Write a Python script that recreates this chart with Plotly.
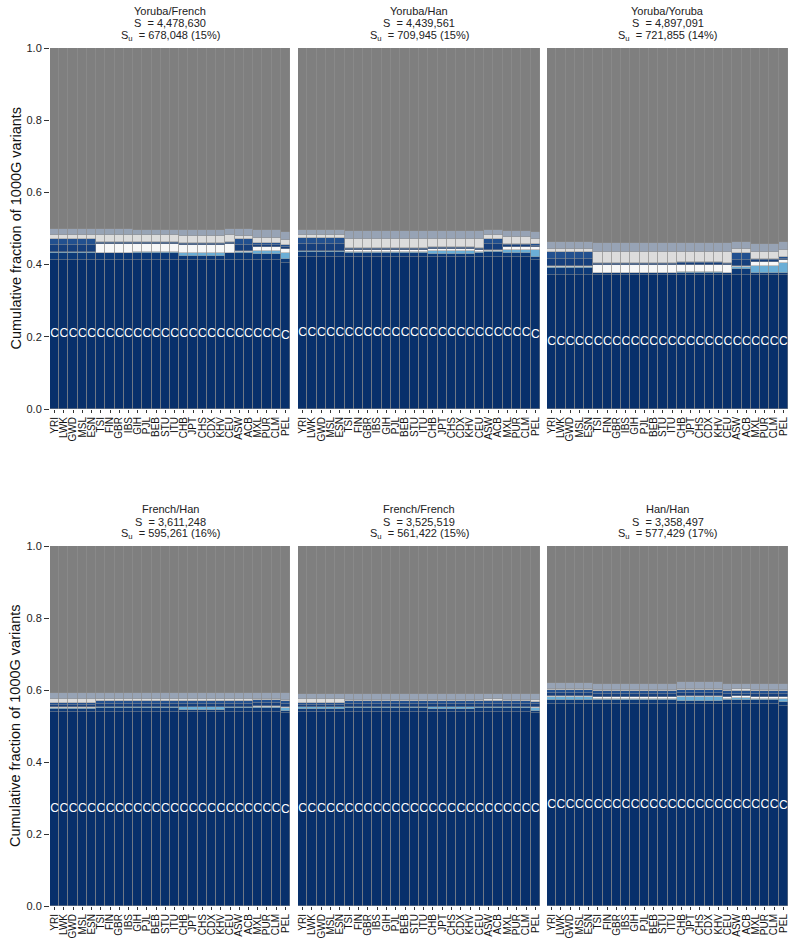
import plotly.graph_objects as go

pops = ["YRI", "LWK", "GWD", "MSL", "ESN", "TSI", "FIN", "GBR", "IBS", "GIH", "PJL", "BEB", "STU",
        "ITU", "CHB", "JPT", "CHS", "CDX", "KHV", "CEU", "ASW", "ACB", "MXL", "PUR", "CLM", "PEL"]

panel_names = ["Yoruba/French", "Yoruba/Han", "Yoruba/Yoruba", "French/Han", "French/French", "Han/Han"]
S_values = ["4,478,630", "4,439,561", "4,897,091", "3,611,248", "3,525,519", "3,358,497"]
Su_values = ["678,048", "709,945", "721,855", "595,261", "561,422", "577,429"]
Su_pcts = ["15%", "15%", "14%", "16%", "15%", "17%"]

layer_names = ["C", "c", "lb", "w", "d1", "d2", "g", "d3"]
layer_colors = ["#08306b", "#0d3a78", "#6baed6", "#f7f7f7", "#163f7c", "#22508f", "#dcdcdc", "#97a3b5"]
rest_color = "#7f7f7f"

# order: AFR(5) EUR(4) SAS(5) EAS(5) CEU ASW ACB MXL PUR CLM PEL
yf_C = [.413, .413, .413, .413, .413, .413, .413, .413, .413, .413, .413, .413, .413, .413, .413, .413, .413, .413, .413, .413, .413, .413, .413, .413, .413, .405]
yf_c = [.018, .018, .018, .018, .018, .018, .018, .018, .018, .018, .018, .018, .018, .018, .010, .010, .010, .010, .010, .018, .018, .018, .016, .016, .016, .010]
yf_lb = [.003, .003, .003, .003, .003, .002, .002, .002, .002, .003, .003, .003, .003, .003, .010, .010, .010, .010, .010, .002, .003, .003, .008, .008, .008, .018]
yf_w = [.002, .002, .002, .002, .002, .024, .024, .024, .024, .022, .022, .022, .022, .022, .020, .020, .020, .020, .020, .024, .003, .003, .012, .012, .012, .010]
yf_d1 = [.018, .018, .018, .018, .018, .003, .003, .003, .003, .004, .004, .004, .004, .004, .004, .004, .004, .004, .004, .003, .017, .017, .006, .006, .006, .006]
yf_d2 = [.017, .017, .017, .017, .017, .003, .003, .003, .003, .003, .003, .003, .003, .003, .004, .004, .004, .004, .004, .003, .016, .016, .006, .006, .006, .006]
yf_g = [.010, .010, .010, .010, .010, .018, .018, .018, .018, .018, .018, .018, .018, .018, .018, .018, .018, .018, .018, .018, .010, .010, .014, .014, .014, .012]
yf_d3 = [.019, .019, .019, .019, .019, .017, .017, .017, .017, .016, .016, .016, .016, .016, .018, .018, .018, .018, .018, .017, .019, .019, .020, .020, .020, .024]

yh_C = [.420, .420, .420, .420, .420, .420, .420, .420, .420, .420, .420, .420, .420, .420, .420, .420, .420, .420, .420, .420, .420, .420, .420, .420, .420, .412]
yh_c = [.015, .015, .015, .015, .015, .012, .012, .012, .012, .012, .012, .012, .012, .012, .010, .010, .010, .010, .010, .012, .015, .015, .012, .012, .012, .008]
yh_lb = [.002, .002, .002, .002, .002, .002, .002, .002, .002, .002, .002, .002, .002, .002, .008, .008, .008, .008, .008, .002, .003, .003, .008, .008, .008, .020]
yh_w = [.002, .002, .002, .002, .002, .006, .006, .006, .006, .006, .006, .006, .006, .006, .005, .005, .005, .005, .005, .006, .003, .003, .010, .010, .010, .008]
yh_d1 = [.018, .018, .018, .018, .018, .004, .004, .004, .004, .004, .004, .004, .004, .004, .003, .003, .003, .003, .003, .004, .016, .016, .004, .004, .004, .004]
yh_d2 = [.016, .016, .016, .016, .016, .002, .002, .002, .002, .002, .002, .002, .002, .002, .002, .002, .002, .002, .002, .002, .014, .014, .004, .004, .004, .004]
yh_g = [.008, .008, .008, .008, .008, .026, .026, .026, .026, .026, .026, .026, .026, .026, .024, .024, .024, .024, .024, .026, .010, .010, .018, .018, .018, .016]
yh_d3 = [.014, .014, .014, .014, .014, .020, .020, .020, .020, .020, .020, .020, .020, .020, .020, .020, .020, .020, .020, .020, .014, .014, .016, .016, .016, .018]

yy_C = [.370, .370, .370, .370, .370, .370, .370, .370, .370, .370, .370, .370, .370, .370, .370, .370, .370, .370, .370, .370, .370, .370, .370, .370, .370, .370]
yy_c = [.020, .020, .020, .020, .020, .006, .006, .006, .006, .006, .006, .006, .006, .006, .006, .006, .006, .006, .006, .006, .018, .018, .006, .006, .006, .006]
yy_lb = [.003, .003, .003, .003, .003, .002, .002, .002, .002, .002, .002, .002, .002, .002, .004, .004, .004, .004, .004, .002, .004, .004, .020, .020, .020, .028]
yy_w = [.002, .002, .002, .002, .002, .020, .020, .020, .020, .020, .020, .020, .020, .020, .020, .020, .020, .020, .020, .020, .004, .004, .012, .012, .012, .008]
yy_d1 = [.020, .020, .020, .020, .020, .004, .004, .004, .004, .004, .004, .004, .004, .004, .004, .004, .004, .004, .004, .004, .018, .018, .004, .004, .004, .004]
yy_d2 = [.020, .020, .020, .020, .020, .003, .003, .003, .003, .003, .003, .003, .003, .003, .003, .003, .003, .003, .003, .003, .018, .018, .004, .004, .004, .004]
yy_g = [.008, .008, .008, .008, .008, .030, .030, .030, .030, .030, .030, .030, .030, .030, .028, .028, .028, .028, .028, .030, .010, .010, .020, .020, .020, .020]
yy_d3 = [.020, .020, .020, .020, .020, .025, .025, .025, .025, .025, .025, .025, .025, .025, .025, .025, .025, .025, .025, .025, .020, .020, .022, .022, .022, .022]

fh_C = [.540, .540, .540, .540, .540, .540, .540, .540, .540, .540, .540, .540, .540, .540, .540, .540, .540, .540, .540, .540, .540, .540, .540, .540, .540, .535]
fh_c = [.008, .008, .008, .008, .008, .010, .010, .010, .010, .010, .010, .010, .010, .010, .004, .004, .004, .004, .004, .010, .010, .010, .010, .010, .010, .006]
fh_lb = [.002, .002, .002, .002, .002, .002, .002, .002, .002, .002, .002, .002, .002, .002, .008, .008, .008, .008, .008, .002, .002, .002, .003, .003, .003, .010]
fh_w = [.002, .002, .002, .002, .002, .002, .002, .002, .002, .002, .002, .002, .002, .002, .002, .002, .002, .002, .002, .002, .002, .002, .002, .002, .002, .002]
fh_d1 = [.006, .006, .006, .006, .006, .008, .008, .008, .008, .008, .008, .008, .008, .008, .008, .008, .008, .008, .008, .008, .008, .008, .008, .008, .008, .008]
fh_d2 = [.006, .006, .006, .006, .006, .008, .008, .008, .008, .008, .008, .008, .008, .008, .008, .008, .008, .008, .008, .008, .008, .008, .008, .008, .008, .008]
fh_g = [.012, .012, .012, .012, .012, .004, .004, .004, .004, .004, .004, .004, .004, .004, .004, .004, .004, .004, .004, .004, .006, .006, .004, .004, .004, .004]
fh_d3 = [.016, .016, .016, .016, .016, .018, .018, .018, .018, .018, .018, .018, .018, .018, .018, .018, .018, .018, .018, .018, .016, .016, .017, .017, .017, .018]

ff_C = [.540, .540, .540, .540, .540, .540, .540, .540, .540, .540, .540, .540, .540, .540, .540, .540, .540, .540, .540, .540, .540, .540, .540, .540, .540, .537]
ff_c = [.008, .008, .008, .008, .008, .010, .010, .010, .010, .010, .010, .010, .010, .010, .006, .006, .006, .006, .006, .010, .010, .010, .010, .010, .010, .006]
ff_lb = [.004, .004, .004, .004, .004, .002, .002, .002, .002, .002, .002, .002, .002, .002, .006, .006, .006, .006, .006, .002, .002, .002, .002, .002, .002, .008]
ff_w = [.002, .002, .002, .002, .002, .002, .002, .002, .002, .002, .002, .002, .002, .002, .002, .002, .002, .002, .002, .002, .002, .002, .002, .002, .002, .002]
ff_d1 = [.005, .005, .005, .005, .005, .008, .008, .008, .008, .008, .008, .008, .008, .008, .008, .008, .008, .008, .008, .008, .008, .008, .008, .008, .008, .008]
ff_d2 = [.005, .005, .005, .005, .005, .007, .007, .007, .007, .007, .007, .007, .007, .007, .007, .007, .007, .007, .007, .007, .007, .007, .007, .007, .007, .007]
ff_g = [.012, .012, .012, .012, .012, .004, .004, .004, .004, .004, .004, .004, .004, .004, .004, .004, .004, .004, .004, .004, .006, .006, .004, .004, .004, .004]
ff_d3 = [.014, .014, .014, .014, .014, .017, .017, .017, .017, .017, .017, .017, .017, .017, .017, .017, .017, .017, .017, .017, .015, .015, .017, .017, .017, .017]

hh_C = [.560, .560, .560, .560, .560, .560, .560, .560, .560, .560, .560, .560, .560, .560, .560, .560, .560, .560, .560, .560, .560, .560, .560, .560, .560, .556]
hh_c = [.012, .012, .012, .012, .012, .012, .012, .012, .012, .012, .012, .012, .012, .012, .010, .010, .010, .010, .010, .012, .012, .012, .012, .012, .012, .010]
hh_lb = [.008, .008, .008, .008, .008, .004, .004, .004, .004, .004, .004, .004, .004, .004, .010, .010, .010, .010, .010, .004, .006, .006, .004, .004, .004, .010]
hh_w = [.004, .004, .004, .004, .004, .004, .004, .004, .004, .004, .004, .004, .004, .004, .004, .004, .004, .004, .004, .004, .004, .004, .004, .004, .004, .004]
hh_d1 = [.008, .008, .008, .008, .008, .008, .008, .008, .008, .008, .008, .008, .008, .008, .008, .008, .008, .008, .008, .008, .008, .008, .008, .008, .008, .008]
hh_d2 = [.008, .008, .008, .008, .008, .008, .008, .008, .008, .008, .008, .008, .008, .008, .008, .008, .008, .008, .008, .008, .008, .008, .008, .008, .008, .008]
hh_g = [.004, .004, .004, .004, .004, .004, .004, .004, .004, .004, .004, .004, .004, .004, .004, .004, .004, .004, .004, .004, .004, .004, .004, .004, .004, .004]
hh_d3 = [.016, .016, .016, .016, .016, .018, .018, .018, .018, .018, .018, .018, .018, .018, .018, .018, .018, .018, .018, .018, .016, .016, .018, .018, .018, .018]

panel_layers = [
    [yf_C, yf_c, yf_lb, yf_w, yf_d1, yf_d2, yf_g, yf_d3],
    [yh_C, yh_c, yh_lb, yh_w, yh_d1, yh_d2, yh_g, yh_d3],
    [yy_C, yy_c, yy_lb, yy_w, yy_d1, yy_d2, yy_g, yy_d3],
    [fh_C, fh_c, fh_lb, fh_w, fh_d1, fh_d2, fh_g, fh_d3],
    [ff_C, ff_c, ff_lb, ff_w, ff_d1, ff_d2, ff_g, ff_d3],
    [hh_C, hh_c, hh_lb, hh_w, hh_d1, hh_d2, hh_g, hh_d3],
]

W, H = 800, 950
col_px = [(50, 290), (298, 540), (547, 788)]
row_px = [(48, 409), (546, 906)]
col_domains = [(a / W, b / W) for a, b in col_px]
row_domains = [(1 - b / H, 1 - a / H) for a, b in row_px]

FONT = "Liberation Sans, Arial, sans-serif"
fig = go.Figure()

for i, layers in enumerate(panel_layers):
    ax = "" if i == 0 else str(i + 1)
    xref, yref = "x" + ax, "y" + ax
    for name, col, vals in zip(layer_names, layer_colors, layers):
        fig.add_trace(go.Bar(x=pops, y=vals, name=name, marker_color=col,
                             marker_line_color="#8f8f8f", marker_line_width=0.5,
                             xaxis=xref, yaxis=yref, showlegend=False, hoverinfo="skip"))
    rest = [1 - sum(v) for v in zip(*layers)]
    fig.add_trace(go.Bar(x=pops, y=rest, name="rest", marker_color=rest_color,
                         marker_line_color="#8f8f8f", marker_line_width=0.4,
                         xaxis=xref, yaxis=yref, showlegend=False, hoverinfo="skip"))
    fig.add_trace(go.Scatter(x=pops, y=[c / 2 for c in layers[0]], mode="text",
                             text=["C"] * len(pops), textfont=dict(color="white", size=12, family=FONT),
                             xaxis=xref, yaxis=yref, showlegend=False, hoverinfo="skip"))

    r, c = divmod(i, 3)
    fig.layout["xaxis" + ax] = dict(domain=col_domains[c], anchor=yref, tickangle=-90,
                                    tickmode="array", tickvals=pops, ticktext=pops,
                                    tickfont=dict(size=10, color="#111", family=FONT),
                                    ticks="outside", ticklen=3, tickcolor="#333",
                                    showgrid=False, zeroline=False, showline=False, automargin=False,
                                    range=[-0.5, 25.5], categoryorder="array", categoryarray=pops)
    fig.layout["yaxis" + ax] = dict(domain=row_domains[r], anchor=xref, range=[0, 1],
                                    tickvals=[0, 0.2, 0.4, 0.6, 0.8, 1.0],
                                    ticktext=["0.0", "0.2", "0.4", "0.6", "0.8", "1.0"],
                                    showticklabels=(c == 0), ticks="outside" if c == 0 else "",
                                    ticklen=5, tickcolor="#333", automargin=False,
                                    tickfont=dict(size=11, color="#222", family=FONT),
                                    showgrid=False, zeroline=False, showline=False)
    title_lines = [panel_names[i], f"S  = {S_values[i]}", f"S<sub>u</sub>  = {Su_values[i]} ({Su_pcts[i]})"]
    for line, shift in zip(title_lines, [37, 24.5, 12]):
        fig.add_annotation(x=sum(col_domains[c]) / 2, y=row_domains[r][1], xref="paper", yref="paper",
                           xanchor="center", yanchor="middle", yshift=shift, showarrow=False,
                           text=line, font=dict(size=11, color="#222", family=FONT))

for r in range(2):
    fig.add_annotation(x=15 / W, y=sum(row_domains[r]) / 2, xref="paper", yref="paper",
                       xanchor="center", yanchor="middle", textangle=-90, showarrow=False,
                       text="Cumulative fraction of 1000G variants",
                       font=dict(size=14.5, color="#111", family=FONT))

fig.update_layout(width=W, height=H, autosize=False, barmode="stack", bargap=0,
                  margin=dict(l=0, r=0, t=0, b=0, autoexpand=False),
                  paper_bgcolor="white", plot_bgcolor="white")

fig.write_html("out.html", config={"displayModeBar": False},
               post_script="document.body.style.margin='0px';")
